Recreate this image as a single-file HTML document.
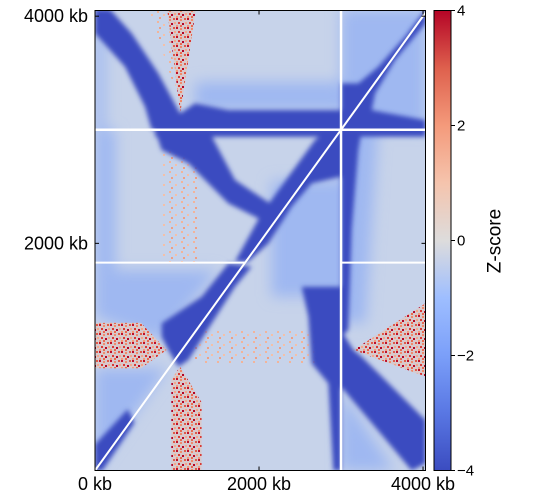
<!DOCTYPE html>
<html><head><meta charset="utf-8"><style>
html,body{margin:0;padding:0;background:#fff;}
svg{display:block;font-family:"Liberation Sans","DejaVu Sans",sans-serif;}
</style></head><body>
<svg id="chart" width="540" height="500" viewBox="0 0 540 500" xmlns="http://www.w3.org/2000/svg">
<defs>
<clipPath id="plotclip"><rect x="95" y="10.5" width="330.5" height="460"/></clipPath>
<filter id="soft" x="-10%" y="-10%" width="120%" height="120%"><feGaussianBlur stdDeviation="2.5"/></filter>
<filter id="soft2" x="-10%" y="-10%" width="120%" height="120%"><feGaussianBlur stdDeviation="7"/></filter>
<pattern id="hot" width="11" height="9" patternUnits="userSpaceOnUse">
<rect width="11" height="9" fill="#d8c9cc"/>
<rect x="0" y="0" width="2" height="2" fill="#c0102a"/>
<rect x="4" y="1" width="2" height="2" fill="#f08a6c"/>
<rect x="8" y="0" width="2" height="2" fill="#e05a48"/>
<rect x="2" y="4" width="2" height="2" fill="#d93a35"/>
<rect x="6" y="5" width="2" height="2" fill="#b40426"/>
<rect x="9" y="4" width="2" height="2" fill="#f4a78c"/>
<rect x="0" y="7" width="2" height="2" fill="#f49a7b"/>
<rect x="4" y="7" width="2" height="2" fill="#e8684f"/>
</pattern>
<pattern id="warm" width="12" height="10" patternUnits="userSpaceOnUse">
<rect x="1" y="1" width="2" height="2" fill="#f2b49a"/>
<rect x="7" y="4" width="2" height="2" fill="#f4c0a8"/>
<rect x="3" y="7" width="2" height="2" fill="#efa085"/>
</pattern>
<linearGradient id="cmap" x1="0" y1="1" x2="0" y2="0">
<stop offset="0" stop-color="#3b4cc0"/>
<stop offset="0.125" stop-color="#5977e3"/>
<stop offset="0.25" stop-color="#7b9ff9"/>
<stop offset="0.375" stop-color="#9ebeff"/>
<stop offset="0.5" stop-color="#dddcdc"/>
<stop offset="0.625" stop-color="#f5c4ad"/>
<stop offset="0.75" stop-color="#f49a7b"/>
<stop offset="0.875" stop-color="#de604d"/>
<stop offset="1" stop-color="#b40426"/>
</linearGradient>
</defs>
<g id="plot" clip-path="url(#plotclip)">
<rect x="95" y="10.5" width="331" height="460" fill="#c7d3ea"/>
<g id="medium" filter="url(#soft2)"></g>
<g id="warmg"></g>
<g id="hotg"></g>
<g id="dark" filter="url(#soft)"></g>
<g id="gaps"></g>
</g>
<rect x="95" y="10.5" width="330.5" height="460" fill="none" stroke="#000" stroke-width="1"/>
<g id="axes"></g>
<rect x="434" y="10.5" width="17" height="460" fill="url(#cmap)" stroke="#000" stroke-width="1"/>
<g id="cbticks"></g>
<text x="495" y="241" font-size="19" text-anchor="middle" dominant-baseline="central" transform="rotate(-90 495 241)">Z-score</text>
</svg>
<script>
// axis domains (kb)
const xDomain = [0, 4030];
const yDomain = [0, 4050];
const xTicks = [0, 2000, 4000];
const xTickLabels = ["0 kb", "2000 kb", "4000 kb"];
const yTicks = [2000, 4000];
const yTickLabels = ["2000 kb", "4000 kb"];
const cbTicks = [-4, -2, 0, 2, 4];
const cbTickLabels = ["\u22124", "\u22122", "0", "2", "4"];
const cbDomain = [-4, 4];
// gap (unmappable) bins, kb
const gapPositions = [3000];
const partialGap = 1830;
// strongly depleted regions (kb polygons)
const darkRegions = [
 [[0,4060],[183,4060],[447,3849],[772,3496],[1037,3144],[1220,3232],[1626,3173],[3000,3173],[3000,3000],[691,3000],[610,3203],[366,3555],[0,3849]],
 [[3000,3000],[3000,3408],[3211,3408],[3455,3555],[3780,3819],[4030,4060],[4030,3937],[3659,3614],[3415,3320],[3374,3173],[4030,3085],[4030,3000]],
 [[732,3000],[3000,3000],[3000,2939],[732,2939]],
 [[3000,3000],[4030,3000],[4030,2940],[3000,2940]],
 [[732,2998],[1382,2998],[1707,2558],[2317,2264],[2195,2147],[1626,2352],[1138,2705],[813,2822]],
 [[3000,2998],[3000,2587],[2642,2528],[2398,2323],[2114,2000],[1870,1839],[1707,1839],[2033,2264],[2358,2587],[2683,2910],[2846,2998]],
 [[1626,1824],[1301,1531],[813,1296],[813,1178],[894,1061],[1016,914],[1138,973],[1423,1296],[1707,1619],[1911,1795]],
 [[0,0],[90,0],[480,420],[400,540],[0,230]],
 [[2520,1618],[3000,1618],[3000,0],[2907,0],[2846,767],[2642,943],[2602,1354]],
 [[3000,1237],[3150,1061],[3252,1002],[4030,444],[4030,63],[3862,0],[3000,738]],
 [[3000,2998],[3252,2998],[3211,2822],[3130,2117],[3089,1237],[3000,1178]]
];
// moderately depleted regions
const mediumRegions = [
 [[0,3000],[120,3000],[120,3849],[0,3849]],
 [[1220,3420],[3000,3420],[3000,3173],[1220,3173]],
 [[3000,3000],[4030,3000],[4030,4060],[3000,4060]],
 [[0,3000],[250,3000],[250,1400],[0,1400]],
 [[0,1765],[1500,1765],[813,1150],[0,1350]],
 [[2150,2550],[3000,2550],[3000,1530],[2150,1530]],
 [[3000,3000],[3450,3000],[3300,1300],[3000,1300]],
 [[3000,700],[3650,0],[3000,0]],
 [[0,0],[0,900],[880,900]]
];
// enriched regions
const hotRegions = [
 [[880,4060],[1230,4060],[1040,3144]],
 [[1037,914],[1300,600],[1300,0],[930,0],[930,800]],
 [[0,1300],[560,1300],[874,1061],[560,900],[0,900]],
 [[3150,1061],[4030,1472],[4030,826]]
];
const warmRegions = [
 [[813,2850],[1260,2850],[1260,1824],[813,1824]],
 [[1220,1237],[2846,1237],[2846,944],[1220,944]],
 [[650,4060],[880,4060],[1000,3300]]
];
const NS = "http://www.w3.org/2000/svg";
const x = v => 95 + (v - xDomain[0]) / (xDomain[1] - xDomain[0]) * 330.5;
const y = v => 470.5 - (v - yDomain[0]) / (yDomain[1] - yDomain[0]) * 460;
const cy = v => 470.5 - (v - cbDomain[0]) / (cbDomain[1] - cbDomain[0]) * 460;
function mk(tag, attrs, parent) {
  const e = document.createElementNS(NS, tag);
  for (const k in attrs) e.setAttribute(k, attrs[k]);
  parent.appendChild(e);
  return e;
}
function drawPolys(list, fill, gid, name) {
  const g = document.getElementById(gid);
  list.forEach(p => {
    const el = mk("polygon", {points: p.map(q => x(q[0]) + "," + y(q[1])).join(" "), fill: fill}, g);
    
    
  });
}
drawPolys(mediumRegions, "#9fb8f1", "medium", "depleted-region");
drawPolys(warmRegions, "url(#warm)", "warmg", "mild-enrichment-region");
drawPolys(hotRegions, "url(#hot)", "hotg", "enriched-region");
drawPolys(darkRegions, "#3b4cc0", "dark", "strong-depletion-region");
const gg = document.getElementById("gaps");
gapPositions.forEach(p => {
  let l = mk("line", {x1: x(xDomain[0]), x2: x(xDomain[1]), y1: y(p), y2: y(p), stroke: "#fff", "stroke-width": 2.5}, gg);
  
  
  l = mk("line", {x1: x(p), x2: x(p), y1: y(yDomain[0]), y2: y(yDomain[1]), stroke: "#fff", "stroke-width": 2.5}, gg);
  
  
});
let pl = mk("line", {x1: x(0), x2: x(partialGap), y1: y(partialGap), y2: y(partialGap), stroke: "#fff", "stroke-width": 2}, gg);


pl = mk("line", {x1: x(gapPositions[0]), x2: x(xDomain[1]), y1: y(partialGap), y2: y(partialGap), stroke: "#fff", "stroke-width": 2}, gg);


const diag = mk("line", {x1: x(0), y1: y(0), x2: x(xDomain[1]), y2: y(xDomain[1]), stroke: "#fff", "stroke-width": 2}, gg);


const ax = document.getElementById("axes");
xTicks.forEach((t, i) => {
  let l = mk("line", {x1: x(t), x2: x(t), y1: 470.5, y2: 466.5, stroke: "#000"}, ax);
  
  
  l = mk("line", {x1: x(t), x2: x(t), y1: 10.5, y2: 14.5, stroke: "#000"}, ax);
  
  
  const tx = mk("text", {x: x(t), y: 490, "font-size": 18, "text-anchor": "middle"}, ax);
  tx.textContent = xTickLabels[i];
  
  
});
yTicks.forEach((t, i) => {
  let l = mk("line", {x1: 95, x2: 99, y1: y(t), y2: y(t), stroke: "#000"}, ax);
  
  
  l = mk("line", {x1: 425.5, x2: 421.5, y1: y(t), y2: y(t), stroke: "#000"}, ax);
  
  
  const tx = mk("text", {x: 88, y: y(t) + 6, "font-size": 18, "text-anchor": "end"}, ax);
  tx.textContent = yTickLabels[i];
  
  
});
const cb = document.getElementById("cbticks");
cbTicks.forEach((t, i) => {
  const l = mk("line", {x1: 451, x2: 455, y1: cy(t), y2: cy(t), stroke: "#000"}, cb);
  
  
  const tx = mk("text", {x: 457, y: cy(t) + 5, "font-size": 15}, cb);
  tx.textContent = cbTickLabels[i];
  
  
});
</script>
</body></html>
